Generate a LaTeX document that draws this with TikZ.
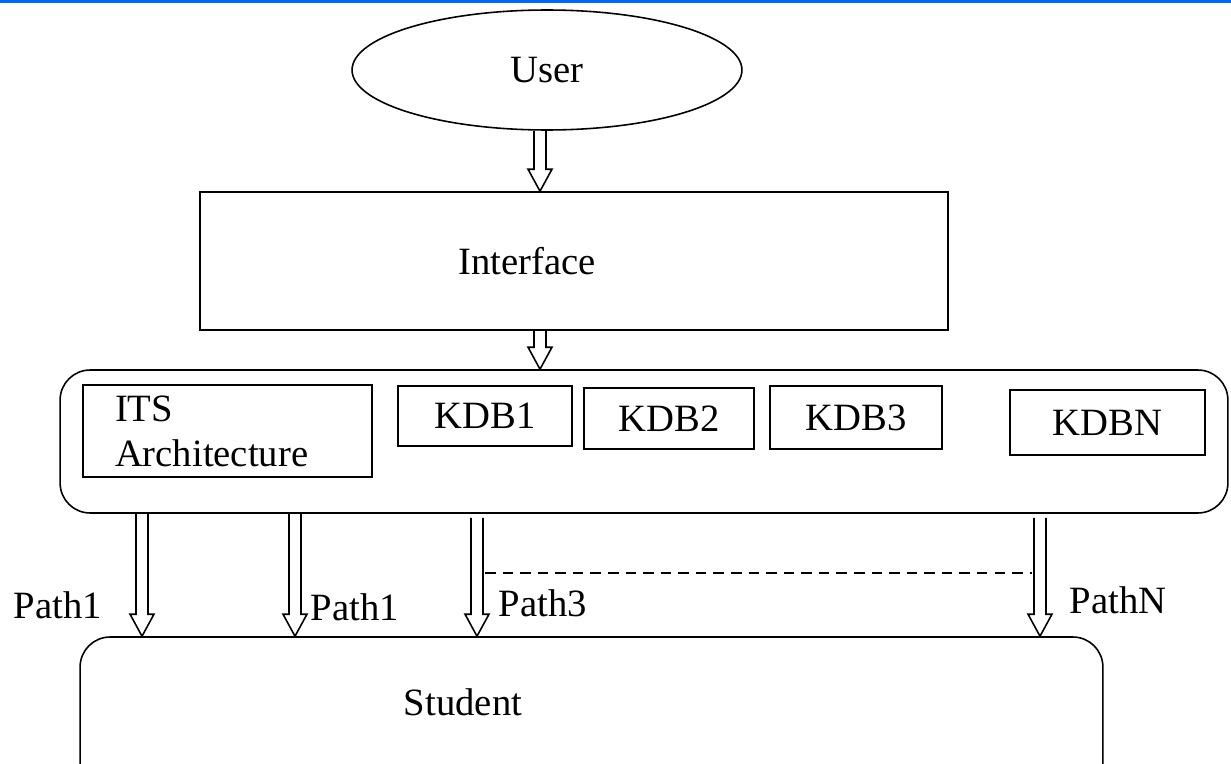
\documentclass[tikz,border=0pt]{standalone}
\usepackage{fontspec}
\setmainfont{Liberation Serif}
\usetikzlibrary{calc,shapes.geometric,positioning}
\definecolor{topblue}{RGB}{0,102,255}

\begin{document}
\begin{tikzpicture}[x=0.02cm,y=-0.02cm,line width=0.9pt,
 font=\fontsize{22}{25.6}\selectfont,
 box/.style={draw,rectangle,inner sep=0pt},
 frame/.style={draw,rectangle,rounded corners=0.6cm,inner sep=0pt},
 hollow/.style={to path={let \p1=(\tikztostart), \p2=(\tikztotarget) in
  (\x1-3.4pt,\y1) -- (\x1-3.4pt,\y2+12.5pt) -- (\x1-6.8pt,\y2+12.5pt) -- (\x1,\y2)
  -- (\x1+6.8pt,\y2+12.5pt) -- (\x1+3.4pt,\y2+12.5pt) -- (\x1+3.4pt,\y1)}}]
\clip (0,0) rectangle (1231,764);
\fill[topblue] (0,0) rectangle (1231,3);
% top part
\node [draw,ellipse,inner sep=0pt,minimum width=7.8cm,minimum height=2.4cm] (User) at (547,70) {User};
\node [box,minimum width=14.96cm,minimum height=2.76cm,label={[xshift=-0.94cm]center:Interface}] (Interface) at (574,261) {};
\coordinate (mid) at (540,0);
\draw [hollow] (User.south -| mid) to (Interface.north -| mid);
% knowledge bases
\node [frame,minimum width=23.36cm,minimum height=2.86cm] (kb) at (644,441.5) {};
\draw [hollow] (Interface.south -| mid) to (kb.north -| mid);
\node [box,minimum width=5.78cm,minimum height=1.84cm,text width=4.5cm,align=left] (its) at (227.5,431) {ITS\\Architecture};
\node [box,minimum width=3.48cm,minimum height=1.2cm] (kdb1) at (485,416) {KDB1};
\node [box,minimum width=3.4cm,minimum height=1.22cm] (kdb2) at (669,418.5) {KDB2};
\node [box,minimum width=3.44cm,minimum height=1.26cm] (kdb3) at (856,417.5) {KDB3};
\node [box,minimum width=3.9cm,minimum height=1.3cm] (kdbn) at (1107.5,422.5) {KDBN};
% student
\node [frame,minimum width=20.46cm,minimum height=3.32cm,label={[xshift=-2.57cm,yshift=0.36cm]center:Student}] (st) at (591.5,720) {};
\coordinate (x1) at (142,0);
\coordinate (x2) at (295,0);
\coordinate (x3) at (477,0);
\coordinate (xn) at (1040,0);
\draw [hollow] (kb.south -| x1) to (st.north -| x1);
\draw [hollow] (kb.south -| x2) to (st.north -| x2);
\draw [hollow] ($(kb.south -| x3)+(0,4)$) to (st.north -| x3);
\draw [hollow] ($(kb.south -| xn)+(0,4)$) to (st.north -| xn);
\coordinate (d3) at (485,573);
\coordinate (dn) at (1032,573);
\draw [dash pattern=on 6pt off 4pt] (d3) -- (dn);
\node (l1) at (58,605) {Path1};
\node (l2) at (355,607) {Path1};
\node (l3) at (543,603) {Path3};
\node (ln) at (1118,600) {PathN};
\end{tikzpicture}
\end{document}
